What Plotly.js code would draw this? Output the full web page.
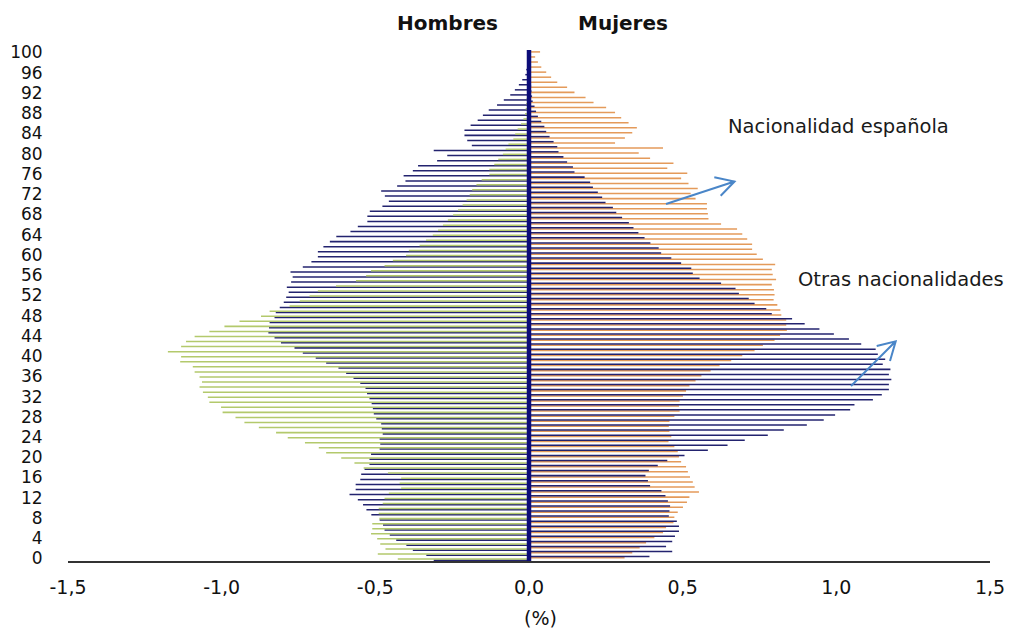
<!DOCTYPE html>
<html>
<head>
<meta charset="utf-8">
<script src="https://cdn.plot.ly/plotly-3.0.1.min.js"></script>
<style>
  html, body { margin: 0; padding: 0; background: #ffffff; }
  #chart { width: 1016px; height: 630px; }
</style>
</head>
<body>
<div id="chart"></div>
<script>
// Edades (categorías del eje vertical)
const edades = [0,1,2,3,4,5,6,7,8,9,10,11,12,13,14,15,16,17,18,19,20,21,22,23,24,25,26,27,28,29,30,31,32,33,34,35,36,37,38,39,40,41,42,43,44,45,46,47,48,49,50,51,52,53,54,55,56,57,58,59,60,61,62,63,64,65,66,67,68,69,70,71,72,73,74,75,76,77,78,79,80,81,82,83,84,85,86,87,88,89,90,91,92,93,94,95,96,97,98,99,100];

// Hombres, nacionalidad española (%)
const hombresEspanola = [-0.310,-0.334,-0.378,-0.399,-0.432,-0.453,-0.470,-0.475,-0.486,-0.513,-0.529,-0.540,-0.557,-0.584,-0.564,-0.564,-0.549,-0.546,-0.535,-0.519,-0.519,-0.514,-0.486,-0.484,-0.486,-0.476,-0.479,-0.481,-0.497,-0.505,-0.508,-0.512,-0.519,-0.527,-0.532,-0.549,-0.571,-0.595,-0.620,-0.660,-0.694,-0.736,-0.763,-0.807,-0.828,-0.848,-0.846,-0.844,-0.828,-0.824,-0.811,-0.798,-0.790,-0.782,-0.788,-0.774,-0.769,-0.776,-0.736,-0.708,-0.687,-0.687,-0.669,-0.648,-0.627,-0.581,-0.557,-0.526,-0.526,-0.518,-0.477,-0.456,-0.469,-0.481,-0.429,-0.402,-0.408,-0.378,-0.361,-0.299,-0.266,-0.310,-0.186,-0.201,-0.210,-0.210,-0.190,-0.167,-0.150,-0.131,-0.104,-0.082,-0.061,-0.046,-0.033,-0.022,-0.012,-0.009,-0.006,-0.004,-0.002];

// Hombres, otras nacionalidades (%)
const hombresOtras = [-0.427,-0.492,-0.467,-0.484,-0.494,-0.514,-0.510,-0.510,-0.487,-0.489,-0.489,-0.476,-0.470,-0.456,-0.416,-0.421,-0.416,-0.459,-0.538,-0.568,-0.611,-0.660,-0.684,-0.729,-0.785,-0.823,-0.879,-0.926,-0.955,-0.997,-1.002,-1.040,-1.045,-1.061,-1.072,-1.064,-1.072,-1.088,-1.094,-1.135,-1.132,-1.175,-1.132,-1.116,-1.088,-1.040,-0.991,-0.942,-0.872,-0.844,-0.779,-0.746,-0.714,-0.687,-0.628,-0.563,-0.530,-0.514,-0.470,-0.443,-0.400,-0.391,-0.356,-0.335,-0.313,-0.296,-0.280,-0.264,-0.247,-0.231,-0.216,-0.203,-0.193,-0.185,-0.171,-0.154,-0.129,-0.129,-0.113,-0.100,-0.085,-0.076,-0.067,-0.051,-0.045,-0.037,-0.026,-0.018,-0.013,-0.011,-0.009,-0.008,-0.006,-0.005,-0.004,-0.003,-0.002,-0.002,-0.001,-0.001,-0.001];

// Mujeres, nacionalidad española (%)
const mujeresEspanola = [0.311,0.336,0.360,0.381,0.408,0.436,0.446,0.470,0.473,0.484,0.501,0.514,0.522,0.553,0.539,0.533,0.524,0.517,0.511,0.495,0.488,0.484,0.473,0.454,0.463,0.457,0.455,0.457,0.473,0.490,0.488,0.490,0.501,0.511,0.522,0.542,0.561,0.591,0.620,0.658,0.694,0.734,0.761,0.799,0.817,0.839,0.837,0.837,0.821,0.818,0.808,0.796,0.799,0.797,0.790,0.804,0.793,0.790,0.801,0.761,0.741,0.726,0.726,0.710,0.694,0.677,0.625,0.584,0.582,0.579,0.579,0.542,0.526,0.549,0.519,0.495,0.515,0.450,0.470,0.394,0.357,0.436,0.280,0.312,0.336,0.351,0.324,0.300,0.280,0.251,0.210,0.184,0.148,0.124,0.092,0.072,0.056,0.040,0.029,0.020,0.036];

// Mujeres, otras nacionalidades (%)
const mujeresOtras = [0.392,0.466,0.446,0.466,0.475,0.488,0.488,0.481,0.455,0.457,0.459,0.452,0.444,0.431,0.394,0.387,0.379,0.390,0.419,0.450,0.506,0.582,0.646,0.702,0.777,0.829,0.904,0.959,0.996,1.045,1.059,1.119,1.148,1.171,1.171,1.179,1.171,1.176,1.151,1.159,1.135,1.128,1.081,1.041,0.992,0.945,0.897,0.856,0.790,0.772,0.734,0.715,0.683,0.672,0.625,0.555,0.533,0.528,0.495,0.463,0.430,0.422,0.395,0.376,0.356,0.340,0.325,0.303,0.284,0.273,0.249,0.238,0.224,0.208,0.199,0.181,0.148,0.143,0.124,0.112,0.096,0.092,0.080,0.067,0.056,0.050,0.040,0.029,0.023,0.018,0.012,0.010,0.008,0.007,0.006,0.005,0.004,0.003,0.003,0.002,0.002];

// Etiquetas de los ejes
const ticksEdad = [0,4,8,12,16,20,24,28,32,36,40,44,48,52,56,60,64,68,72,76,80,84,88,92,96,100];
const ticksEdadTexto = ticksEdad.map(String);
const ticksPct = [-1.5,-1.0,-0.5,0,0.5,1.0,1.5];
const ticksPctTexto = ['-1,5','-1,0','-0,5','0,0','0,5','1,0','1,5'];

const FONT = 'DejaVu Sans, Liberation Sans, Arial, sans-serif';
const NAVY = '#23236f';
const GREEN = '#b3c96c';
const ORANGE = '#e49a5a';
const BAR_W = 0.3;

function serie(nombre, valores, color, offset) {
  return {
    type: 'bar', orientation: 'h', name: nombre,
    y: edades, x: valores,
    width: BAR_W, offset: offset,
    marker: { color: color, line: { width: 0 } },
    hoverinfo: 'skip'
  };
}

const data = [
  serie('Hombres - Nacionalidad española', hombresEspanola, NAVY, -0.525),
  serie('Hombres - Otras nacionalidades', hombresOtras, GREEN, -0.275),
  serie('Mujeres - Nacionalidad española', mujeresEspanola, ORANGE, -0.025),
  serie('Mujeres - Otras nacionalidades', mujeresOtras, NAVY, 0.225)
];

// helpers to place decorations in paper coords from pixel positions
const L = 68, T = 50, W = 922, H = 511;
const px = v => (v - L) / W;
const py = v => (T + H - v) / H;

function arrowPath(tail, head, a1, a2) {
  return 'M' + px(tail[0]) + ',' + py(tail[1]) +
         ' L' + px(head[0]) + ',' + py(head[1]) +
         ' M' + px(a1[0]) + ',' + py(a1[1]) +
         ' L' + px(head[0]) + ',' + py(head[1]) +
         ' L' + px(a2[0]) + ',' + py(a2[1]);
}

const layout = {
  width: 1016, height: 630,
  margin: { l: L, r: 1016 - L - W, t: T, b: 630 - T - H, pad: 0 },
  paper_bgcolor: '#ffffff', plot_bgcolor: '#ffffff',
  barmode: 'overlay',
  showlegend: false,
  font: { family: FONT, color: '#111111', size: 20 },
  xaxis: {
    range: [-1.5, 1.5], fixedrange: true,
    tickvals: ticksPct, ticktext: ticksPctTexto,
    showgrid: false, zeroline: false,
    showline: true, linecolor: '#333333', linewidth: 1.5,
    ticks: 'outside', ticklen: 9, tickcolor: 'rgba(0,0,0,0)',
    tickfont: { family: FONT, size: 19, color: '#111111' }
  },
  yaxis: {
    range: [-0.5, 100.5], fixedrange: true,
    tickvals: ticksEdad, ticktext: ticksEdadTexto,
    showgrid: false, zeroline: false, showline: false,
    ticks: 'outside', ticklen: 21, tickcolor: 'rgba(0,0,0,0)',
    tickfont: { family: FONT, size: 17, color: '#111111' }
  },
  shapes: [
    { type: 'line', xref: 'x', yref: 'paper', x0: 0, x1: 0, y0: 0, y1: 1,
      line: { color: '#0c0c78', width: 4.5 }, layer: 'above' },
    { type: 'path', xref: 'paper', yref: 'paper',
      path: arrowPath([666, 204], [734.5, 181.5], [714.3, 177.3], [720.7, 195.7]),
      line: { color: '#4a86c8', width: 2 }, layer: 'above' },
    { type: 'path', xref: 'paper', yref: 'paper',
      path: arrowPath([851, 386], [895.7, 341.3], [876.7, 346], [890, 361]),
      line: { color: '#4a86c8', width: 2 }, layer: 'above' }
  ],
  annotations: [
    { text: '<b>Hombres</b>', xref: 'paper', yref: 'paper', x: px(447), y: py(23),
      xanchor: 'center', yanchor: 'middle', showarrow: false,
      font: { family: FONT, size: 20, color: '#111111' } },
    { text: '<b>Mujeres</b>', xref: 'paper', yref: 'paper', x: px(622.5), y: py(23),
      xanchor: 'center', yanchor: 'middle', showarrow: false,
      font: { family: FONT, size: 20, color: '#111111' } },
    { text: 'Nacionalidad española', xref: 'paper', yref: 'paper', x: px(726), y: py(126.6),
      xanchor: 'left', yanchor: 'middle', showarrow: false,
      font: { family: FONT, size: 19.5, color: '#1a1a1a' } },
    { text: 'Otras nacionalidades', xref: 'paper', yref: 'paper', x: px(796), y: py(279.3),
      xanchor: 'left', yanchor: 'middle', showarrow: false,
      font: { family: FONT, size: 19.5, color: '#1a1a1a' } },
    { text: '(%)', xref: 'paper', yref: 'paper', x: px(540), y: py(618),
      xanchor: 'center', yanchor: 'middle', showarrow: false,
      font: { family: FONT, size: 19, color: '#111111' } }
  ]
};

Plotly.newPlot('chart', data, layout, { staticPlot: true, displayModeBar: false });
</script>
</body>
</html>
